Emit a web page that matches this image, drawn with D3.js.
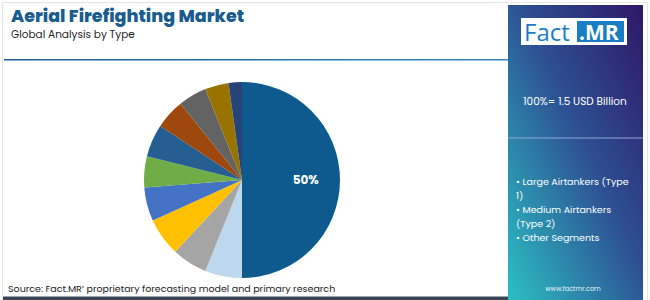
<!DOCTYPE html>
<html>
<head>
<meta charset="utf-8">
<script src="https://cdn.jsdelivr.net/npm/d3@7"></script>
<style>
  body { margin: 0; background: #fff; }
  svg { display: block; font-family: "Poppins", "Inter", "Open Sans", sans-serif; }
</style>
</head>
<body>
<div class="container"></div>
<script>
// slice shares, clockwise from 12 o'clock
const segments = ['Large Airtankers (Type 1)', 's2', 's3', 's4', 's5', 's6', 's7', 's8', 's9', 's10', 's11'];
const shares = [50, 6.1, 5.8, 6.3, 5.6, 5.1, 5.4, 4.9, 4.7, 3.9, 2.2];
const colors = ['#0e5a8e', '#bdd7ee', '#a5a5a5', '#ffc000', '#4472c4', '#70ad47',
                '#255e91', '#9e480e', '#636363', '#997300', '#264478'];
const legendLines = ['• Large Airtankers (Type', '1)', '• Medium Airtankers', '(Type 2)', '• Other Segments'];

const width = 650, height = 300;

const svg = d3.select('.container')
    .append('svg')
    .attr('width', width)
    .attr('height', height);

const defs = svg.append('defs');
const grad = defs.append('linearGradient')
    .attr('id', 'panelGrad')
    .attr('x1', '100%').attr('y1', '0%')
    .attr('x2', '0%').attr('y2', '100%');
grad.append('stop').attr('offset', '0%').attr('stop-color', '#2f1766');
grad.append('stop').attr('offset', '45%').attr('stop-color', '#2d4f92');
grad.append('stop').attr('offset', '100%').attr('stop-color', '#2bc0c4');

const lineGrad = defs.append('linearGradient').attr('id', 'lineGrad');
lineGrad.append('stop').attr('offset', '0%').attr('stop-color', '#1d5f8e');
lineGrad.append('stop').attr('offset', '100%').attr('stop-color', '#3a86b8');

// outer frame
svg.append('rect')
    .attr('x', 2.5).attr('y', 2.5)
    .attr('width', 645).attr('height', 300)
    .attr('fill', 'none')
    .attr('stroke', '#e6e6e6');

// title
svg.append('text')
    .attr('x', 11).attr('y', 22)
    .attr('font-size', 17.5).attr('font-weight', 800)
    .attr('fill', '#1b5c8e')
    .text('Aerial Firefighting Market');
svg.append('text')
    .attr('x', 11).attr('y', 38)
    .attr('font-size', 10.5)
    .attr('fill', '#222')
    .text('Global Analysis by Type');

svg.append('rect')
    .attr('x', 4).attr('y', 59)
    .attr('width', 506).attr('height', 1.5)
    .attr('fill', 'url(#lineGrad)');

// right panel
svg.append('rect')
    .attr('x', 508).attr('y', 5)
    .attr('width', 135).attr('height', 295)
    .attr('fill', 'url(#panelGrad)');

// logo
const logo = svg.append('g');
logo.append('rect').attr('x', 521).attr('y', 18).attr('width', 106).attr('height', 27).attr('fill', '#fff');
logo.append('rect').attr('x', 577).attr('y', 21).attr('width', 47).attr('height', 21).attr('fill', '#1a7ec4');
logo.append('text').attr('x', 524).attr('y', 40.5)
    .attr('font-family', 'Open Sans, sans-serif')
    .attr('font-size', 24).attr('fill', '#1a7ec4').text('Fact');
logo.append('text').attr('x', 579).attr('y', 40)
    .attr('font-family', 'Open Sans, sans-serif')
    .attr('font-size', 21).attr('font-weight', 700).attr('fill', '#fff').text('.MR');

svg.append('text')
    .attr('x', 575).attr('y', 105)
    .attr('text-anchor', 'middle')
    .attr('font-size', 10.5)
    .attr('fill', '#fff')
    .text('100%= 1.5 USD Billion');

svg.append('line')
    .attr('x1', 508).attr('x2', 643)
    .attr('y1', 138).attr('y2', 138)
    .attr('stroke', '#8fa6d6').attr('stroke-width', 1);

svg.append('g')
    .selectAll('text')
    .data(legendLines)
    .enter().append('text')
    .attr('x', 516)
    .attr('y', (d, i) => 185 + i * 14)
    .attr('font-size', 9.5)
    .attr('fill', '#fff')
    .text(d => d);

svg.append('text')
    .attr('x', 573).attr('y', 291)
    .attr('text-anchor', 'middle')
    .attr('font-size', 6.5)
    .attr('fill', '#e8f4f8')
    .text('www.factmr.com');

// pie
const cx = 242, cy = 180, r = 98;
const pie = d3.pie().sort(null).value(d => d);
const arc = d3.arc().innerRadius(0).outerRadius(r);
const arcs = pie(shares);

const g = svg.append('g').attr('transform', 'translate(' + cx + ',' + cy + ')');
g.selectAll('path')
    .data(arcs)
    .enter().append('path')
    .attr('d', arc)
    .attr('fill', (d, i) => colors[i]);

const labelArc = d3.arc().innerRadius(r * 0.65).outerRadius(r * 0.65);
g.append('text')
    .attr('transform', 'translate(' + labelArc.centroid(arcs[0]) + ')')
    .attr('text-anchor', 'middle')
    .attr('dy', '0.35em')
    .attr('font-size', 12).attr('font-weight', 700)
    .attr('fill', '#fff')
    .text(shares[0] + '%');

// footer
svg.append('text')
    .attr('x', 8).attr('y', 292)
    .attr('font-size', 9.5)
    .attr('fill', '#222')
    .text('Source: Fact.MR\u2019 proprietary forecasting model and primary research');

svg.append('rect')
    .attr('x', 3).attr('y', 296.5)
    .attr('width', 505).attr('height', 3.5)
    .attr('fill', '#3b4656');
</script>
</body>
</html>
